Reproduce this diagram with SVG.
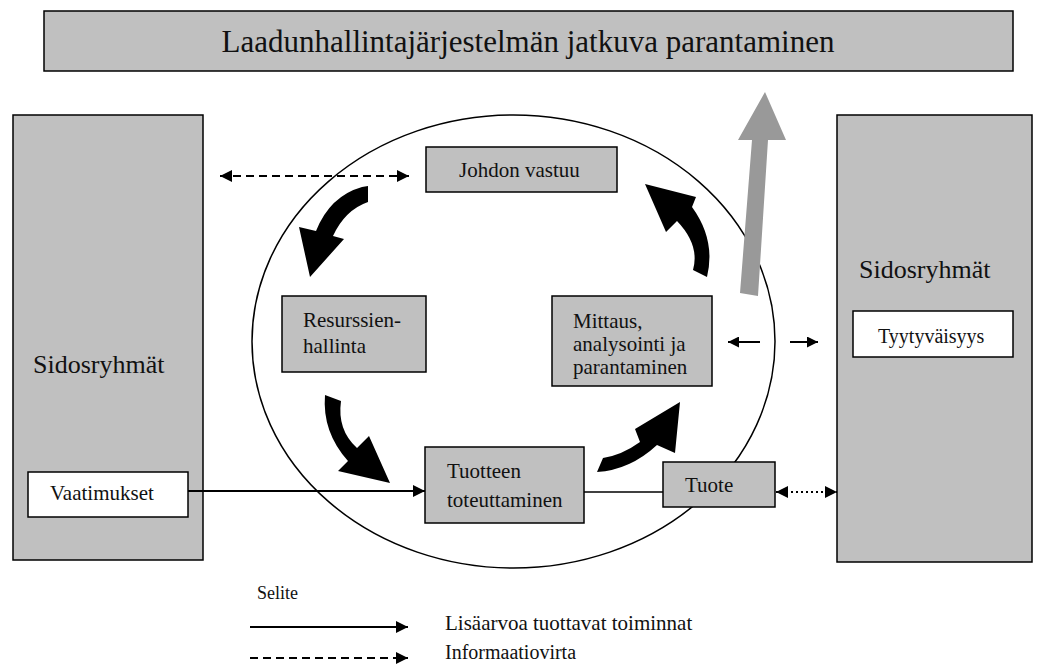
<svg xmlns="http://www.w3.org/2000/svg" width="1038" height="664" viewBox="0 0 1038 664">
<style>
  .panel { fill: #c0c0c0; stroke: #000; stroke-width: 1.5; }
  .box { fill: #c0c0c0; stroke: #000; stroke-width: 1.5; }
  .wbox { fill: #fff; stroke: #000; stroke-width: 1.5; }
  text { fill: #111; }
  .ln { stroke: #000; stroke-width: 2; fill: none; }
  .thin { stroke: #000; stroke-width: 1.5; fill: none; }
  .dash { stroke: #000; stroke-width: 2; fill: none; stroke-dasharray: 8 5; }
  .dot { stroke: #000; stroke-width: 2; fill: none; stroke-dasharray: 2 3; }
  .curve { fill: #000; }
</style>
<defs>
  <marker id="ah" viewBox="0 0 10 10" refX="10" refY="5" markerWidth="15" markerHeight="12" markerUnits="userSpaceOnUse" orient="auto-start-reverse">
    <path d="M0,0 L10,5 L0,10 z" fill="#000"/>
  </marker>
  <marker id="ahs" viewBox="0 0 10 10" refX="10" refY="5" markerWidth="12" markerHeight="11" markerUnits="userSpaceOnUse" orient="auto-start-reverse">
    <path d="M0,0 L10,5 L0,10 z" fill="#000"/>
  </marker>
</defs>
<rect width="1038" height="664" fill="#fff"/>

<g font-family="'Liberation Serif', 'Times New Roman', 'DejaVu Serif', serif">
<g id="banner">
  <rect class="box" x="44" y="11" width="969" height="60"/>
  <text x="528" y="52" font-size="31" text-anchor="middle">Laadunhallintajärjestelmän jatkuva parantaminen</text>
</g>

<g id="left-stakeholders">
  <rect class="panel" x="13" y="115" width="190" height="445"/>
  <text x="33" y="373" font-size="26">Sidosryhmät</text>
</g>
<g id="vaatimukset">
  <rect class="wbox" x="28" y="472" width="160" height="45"/>
  <text x="50" y="500" font-size="21">Vaatimukset</text>
</g>

<g id="right-stakeholders">
  <rect class="panel" x="837" y="115" width="195" height="447"/>
  <text x="859" y="278" font-size="26">Sidosryhmät</text>
</g>
<g id="tyytyvaisyys">
  <rect class="wbox" x="853" y="311" width="160" height="46"/>
  <text x="878" y="343" font-size="20">Tyytyväisyys</text>
</g>

<g id="process-circle">
  <ellipse cx="513.5" cy="341.5" rx="261.5" ry="226.5" fill="none" stroke="#000" stroke-width="1.5"/>
</g>

<g id="improvement-arrow">
  <polygon points="740,293 758,296 768,140 786,140 765,92 738,140 752,140" fill="#999"/>
</g>

<g id="connectors">
  <line class="dash" x1="220" y1="176" x2="409" y2="176" marker-start="url(#ah)" marker-end="url(#ah)"/>
  <line class="ln" x1="188" y1="491" x2="425" y2="491" marker-end="url(#ah)"/>
  <line class="thin" x1="584" y1="492" x2="663" y2="492"/>
  <line class="dot" x1="776" y1="492" x2="837" y2="492" marker-start="url(#ah)" marker-end="url(#ah)"/>
  <line class="ln" x1="760" y1="342" x2="728" y2="342" marker-end="url(#ahs)"/>
  <line class="ln" x1="790" y1="342" x2="818" y2="342" marker-end="url(#ahs)"/>
  <path class="curve" d="M362,187 L368,186 L368,202 Q345,210 333,236 L344,239 L310,277 L299,227 L316,231 Q330,196 362,187 Z"/>
  <path class="curve" d="M325,395 L341,401 Q337,430 357,448 L369,436 L390,483 L338,471 L348,461 Q322,432 325,395 Z"/>
  <path class="curve" d="M597,472 L603,458 Q622,455 640,442 L635,429 L680,402 L675,453 L657,445 Q630,470 597,472 Z"/>
  <path class="curve" d="M693,270 L707,277 Q716,240 692,207 L696,197 L645,184 L666,232 L677,221 Q700,245 693,270 Z"/>
</g>

<g id="johdon-vastuu">
  <rect class="box" x="426" y="147" width="191" height="45"/>
  <text x="459" y="177" font-size="21">Johdon vastuu</text>
</g>
<g id="resurssienhallinta">
  <rect class="box" x="282" y="296" width="144" height="76"/>
  <text x="303" y="327" font-size="21">Resurssien-</text>
  <text x="303" y="353" font-size="21">hallinta</text>
</g>
<g id="mittaus">
  <rect class="box" x="552" y="296" width="160" height="90"/>
  <text x="573" y="328" font-size="21">Mittaus,</text>
  <text x="573" y="351" font-size="21">analysointi ja</text>
  <text x="573" y="374" font-size="21">parantaminen</text>
</g>
<g id="tuotteen-toteuttaminen">
  <rect class="box" x="425" y="447" width="159" height="76"/>
  <text x="447" y="478" font-size="21">Tuotteen</text>
  <text x="447" y="507" font-size="21">toteuttaminen</text>
</g>
<g id="tuote">
  <rect class="box" x="663" y="462" width="112" height="45"/>
  <text x="685" y="492" font-size="21">Tuote</text>
</g>

<g id="legend">
  <text x="257" y="599" font-size="18">Selite</text>
  <line class="ln" x1="250" y1="627" x2="408" y2="627" marker-end="url(#ah)"/>
  <text x="445" y="630" font-size="21">Lisäarvoa tuottavat toiminnat</text>
  <line class="dash" x1="250" y1="658" x2="408" y2="658" stroke-dasharray="7 6" marker-end="url(#ah)"/>
  <text x="445" y="659" font-size="20">Informaatiovirta</text>
</g>
</g>
</svg>
